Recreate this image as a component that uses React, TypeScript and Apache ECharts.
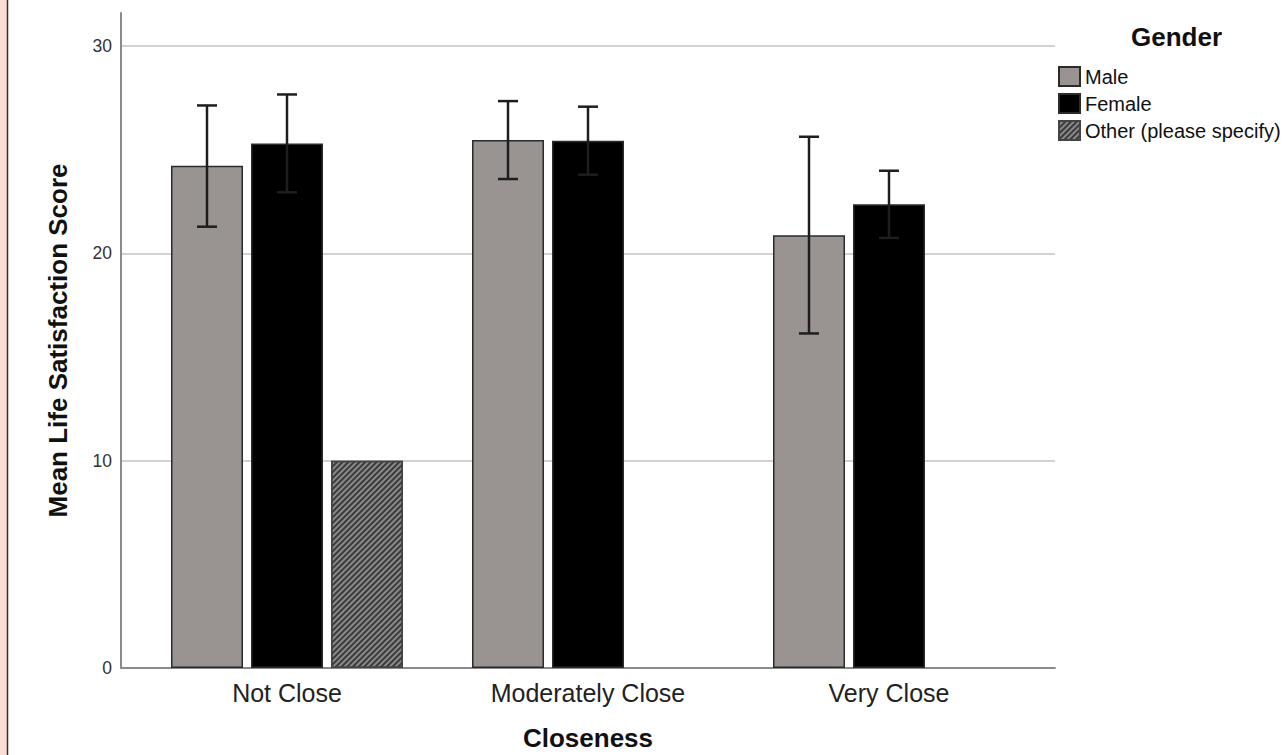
import React, { useEffect, useRef } from "react";
import * as echarts from "echarts";

const categories = ["Not Close", "Moderately Close", "Very Close"];
const genders = ["Male", "Female", "Other (please specify)"];
const maleMeans = [24.23, 25.47, 20.88];
const femaleMeans = [25.31, 25.44, 22.37];
const otherMeans: (number | null)[] = [10.0, null, null];
const maleLow = [21.29, 23.59, 16.14];
const maleHigh = [27.14, 27.35, 25.63];
const femaleLow = [22.95, 23.8, 20.75];
const femaleHigh = [27.67, 27.08, 23.99];
const yMin = 0;
const yMax = 31.6;
const yInterval = 10;

const FONT = "'Liberation Sans', Arial, sans-serif";

function errorSeries(low: number[], high: number[], offset: number) {
  return {
    type: "custom",
    xAxisIndex: 1,
    yAxisIndex: 1,
    z: 5,
    silent: true,
    data: low.map((l, i) => [i, l, high[i]]),
    encode: { x: 0, y: [1, 2] },
    renderItem: (params: any, api: any) => {
      const cat = api.value(0);
      const pLo = api.coord([cat, api.value(1)]);
      const pHi = api.coord([cat, api.value(2)]);
      const x = pLo[0] + offset;
      const st = { stroke: "#1e1e1e", lineWidth: 2.5 };
      return {
        type: "group",
        children: [
          { type: "line", shape: { x1: x, y1: pHi[1], x2: x, y2: pLo[1] }, style: st },
          { type: "line", shape: { x1: x - 10, y1: pHi[1], x2: x + 10, y2: pHi[1] }, style: st },
          { type: "line", shape: { x1: x - 10, y1: pLo[1], x2: x + 10, y2: pLo[1] }, style: st },
        ],
      };
    },
  };
}

export default function App() {
  const ref = useRef<HTMLDivElement>(null);
  useEffect(() => {
    document.body.style.margin = "0";
    if (!ref.current) return;
    const chart = echarts.init(ref.current, undefined, { renderer: "svg" });
    const barCommon = {
      type: "bar",
      xAxisIndex: 1,
      yAxisIndex: 1,
      barWidth: 72,
      barGap: "11.1%",
    };
    chart.setOption({
      animation: false,
      backgroundColor: "#ffffff",
      textStyle: { fontFamily: FONT },
      graphic: [
        { type: "rect", shape: { x: 0, y: 0, width: 7, height: 755 }, style: { fill: "#fcdcd6" }, silent: true },
        { type: "line", shape: { x1: 7.5, y1: 0, x2: 7.5, y2: 755 }, style: { stroke: "#3c2b27", lineWidth: 1.5 }, silent: true },
      ],
      title: {
        text: "Gender",
        left: 1131,
        top: 24,
        padding: 0,
        textStyle: { fontFamily: FONT, fontSize: 26, fontWeight: "bold", color: "#111" },
      },
      legend: {
        data: genders,
        orient: "vertical",
        left: 1058,
        top: 66,
        padding: 0,
        itemWidth: 21,
        itemHeight: 19,
        itemGap: 6,
        icon: "rect",
        textStyle: { fontFamily: FONT, fontSize: 20, color: "#111" },
      },
      grid: [
        { left: 121, right: 231, top: 13, bottom: 87, outerBoundsMode: "none", containLabel: false },
        { left: 136.5, right: 246.5, top: 13, bottom: 87, outerBoundsMode: "none", containLabel: false },
      ],
      xAxis: [
        {
          type: "category",
          gridIndex: 0,
          data: categories,
          axisLine: { show: true, lineStyle: { color: "#8a8a8a", width: 2 } },
          axisTick: { show: false },
          axisLabel: { show: false },
          name: "Closeness",
          nameLocation: "middle",
          nameGap: 57,
          nameTextStyle: { fontFamily: FONT, fontSize: 26, fontWeight: "bold", color: "#111" },
        },
        {
          type: "category",
          gridIndex: 1,
          data: categories,
          axisLine: { show: false },
          axisTick: { show: false },
          axisLabel: { margin: 12, fontFamily: FONT, fontSize: 25, color: "#222" },
        },
      ],
      yAxis: [
        {
          type: "value",
          gridIndex: 0,
          min: yMin,
          max: yMax,
          interval: yInterval,
          axisLine: { show: true, lineStyle: { color: "#8a8a8a", width: 2 } },
          axisTick: { show: false },
          axisLabel: {
            margin: 9,
            fontFamily: FONT,
            fontSize: 17.5,
            color: "#333",
            showMaxLabel: false,
          },
          splitLine: {
            show: true,
            showMaxLine: false,
            showMinLine: false,
            lineStyle: { color: "#d2d2d2", width: 2 },
          },
          name: "Mean Life Satisfaction Score",
          nameLocation: "middle",
          nameGap: 50,
          nameRotate: 90,
          nameTextStyle: { fontFamily: FONT, fontSize: 26, fontWeight: "bold", color: "#111" },
        },
        {
          type: "value",
          gridIndex: 1,
          min: yMin,
          max: yMax,
          interval: yInterval,
          show: false,
          splitLine: { show: false },
        },
      ],
      series: [
        {
          ...barCommon,
          name: genders[0],
          data: maleMeans,
          itemStyle: { color: "#999492", borderColor: "#2b2b2b", borderWidth: 1.5 },
        },
        {
          ...barCommon,
          name: genders[1],
          data: femaleMeans,
          itemStyle: { color: "#000000", borderColor: "#2b2b2b", borderWidth: 1.5 },
        },
        {
          ...barCommon,
          name: genders[2],
          data: otherMeans,
          itemStyle: {
            color: "#8a8a8a",
            borderColor: "#444",
            borderWidth: 1.5,
            decal: {
              symbol: "rect",
              color: "#3a3a3a",
              dashArrayX: [1, 0],
              dashArrayY: [2, 2],
              rotation: -Math.PI / 4,
            },
          },
        },
        errorSeries(maleLow, maleHigh, -80),
        errorSeries(femaleLow, femaleHigh, 0),
      ],
    });
    return () => chart.dispose();
  }, []);
  return <div ref={ref} style={{ width: 1286, height: 755 }} />;
}
